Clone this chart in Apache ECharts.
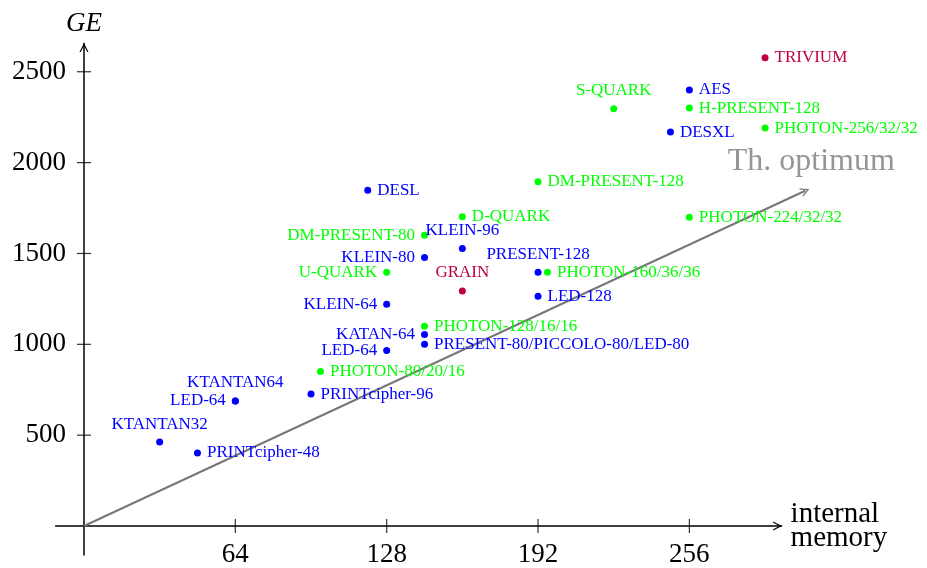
<!DOCTYPE html>
<html>
<head>
<meta charset="utf-8">
<script src="https://cdn.jsdelivr.net/npm/echarts@6/dist/echarts.min.js"></script>
<style>html,body{margin:0;padding:0;background:#fff}#c{width:927px;height:568px}</style>
</head>
<body>
<div id="c"></div>
<script>
// ---- data ----
const names = ['TRIVIUM','AES','S-QUARK','H-PRESENT-128','PHOTON-256/32/32','DESXL','DM-PRESENT-128','DESL',
  'D-QUARK','PHOTON-224/32/32','DM-PRESENT-80','KLEIN-96','KLEIN-80','U-QUARK','PRESENT-128','PHOTON-160/36/36',
  'GRAIN','LED-128','KLEIN-64','PHOTON-128/16/16','KATAN-64','PRESENT-80/PICCOLO-80/LED-80','LED-64',
  'PHOTON-80/20/16','PRINTcipher-96','KTANTAN64','LED-64','KTANTAN32','PRINTcipher-48'];
const memory = [288,256,224,256,288,248,192,120,160,256,144,160,144,128,192,196,160,192,128,144,144,144,128,100,96,64,64,32,48];
const ge = [2577,2400,2296,2300,2190,2168,1895,1848,1702,1700,1600,1528,1478,1396,1396,1396,1294,1265,1220,1100,1054,1000,966,850,726,688,688,462,402];
const kind = ['stream','block','hash','hash','hash','block','hash','block','hash','hash','hash','block','block','hash','block','hash',
  'stream','block','block','hash','block','block','block','hash','block','block','block','block','block'];
const xTicks = [64,128,192,256];
const yTicks = [500,1000,1500,2000,2500];
const optimumX = [0,305];
const optimumY = [0,1845];

// ---- styles ----
const FONT = '"Liberation Serif", "DejaVu Serif", serif';
const colors = {block:'#0000ff', hash:'#00ff00', stream:'#bf0040'};
const leftLabels = ['DM-PRESENT-80','KLEIN-80','U-QUARK','KLEIN-64','KATAN-64','LED-64'];
const topLabels = ['S-QUARK','KLEIN-96','PRESENT-128','GRAIN','KTANTAN64','KTANTAN32'];
const chevronUp = 'path://M5,0 L10,10 L8.6,10 L5,3 L1.4,10 L0,10 Z';

function pointSeries(k){
  const data = [];
  names.forEach((n,i)=>{
    if(kind[i]!==k) return;
    let pos = 'right';
    if(leftLabels.includes(n)) pos='left';
    if(topLabels.includes(n)) pos='top';
    data.push({name:n, value:[memory[i], ge[i]], label:{position:pos, distance: 6}});
  });
  return {
    type:'scatter', data, symbolSize:7, z:5,
    itemStyle:{color:colors[k], opacity:1},
    label:{show:true, formatter:'{b}', color:colors[k], fontFamily:FONT, fontSize:17},
    emphasis:{disabled:true}
  };
}

const chart = echarts.init(document.getElementById('c'), null, {renderer:'canvas'});
chart.setOption({
  animation:false,
  backgroundColor:'#fff',
  grid:{left:55.6, top:43.6, width:726, height:511.5, containLabel:false, outerBoundsMode:'none'},
  xAxis:{
    type:'value', min:-12, max:295,
    axisLine:{onZero:true, lineStyle:{color:'#000', width:1.5}, symbol:['none', chevronUp], symbolSize:[10,9], symbolOffset:[0,-4]},
    axisTick:{show:false},
    splitLine:{show:false},
    axisLabel:{customValues:xTicks, formatter:v=>String(v), color:'#000', fontFamily:FONT, fontSize:27, margin:-14},
    name:'internal\nmemory', nameLocation:'end', nameGap:9,
    nameTextStyle:{color:'#000', fontFamily:FONT, fontSize:29, lineHeight:24, align:'left', verticalAlign:'middle'}
  },
  yAxis:{
    type:'value', min:-160, max:2655,
    axisLine:{onZero:true, lineStyle:{color:'#000', width:1.5}, symbol:['none', chevronUp], symbolSize:[10,9], symbolOffset:[0,-4]},
    axisTick:{show:false},
    splitLine:{show:false},
    axisLabel:{customValues:yTicks, formatter:v=>String(v), color:'#000', fontFamily:FONT, fontSize:27, margin:-10.5},
    name:'GE', nameLocation:'end', nameGap:6,
    nameTextStyle:{color:'#000', fontFamily:FONT, fontSize:27, fontStyle:'italic'}
  },
  series:[
    {
      type:'lines', coordinateSystem:'cartesian2d', silent:true, clip:false, z:2,
      symbol:['none', chevronUp], symbolSize:[11,9],
      lineStyle:{color:'#777777', width:2, opacity:1},
      data:[{coords:[[optimumX[0], optimumY[0]],[optimumX[1], optimumY[1]]]}]
    },
    {
      type:'scatter', silent:true, clip:false, symbolSize:1,
      itemStyle:{color:'rgba(0,0,0,0)'},
      data:[[optimumX[1], optimumY[1]]],
      label:{show:true, position:'top', distance:13, offset:[6,0], formatter:'Th. optimum', color:'#7a7a7a', fontFamily:FONT, fontSize:32}
    },
    {
      type:'scatter', silent:true, symbol:'rect', symbolSize:[1.2,14], z:3,
      itemStyle:{color:'#000'},
      data:xTicks.map(v=>[v,0])
    },
    {
      type:'scatter', silent:true, symbol:'rect', symbolSize:[14,1.2], z:3,
      itemStyle:{color:'#000'},
      data:yTicks.map(v=>[0,v])
    },
    pointSeries('block'),
    pointSeries('hash'),
    pointSeries('stream')
  ]
});
</script>
</body>
</html>
